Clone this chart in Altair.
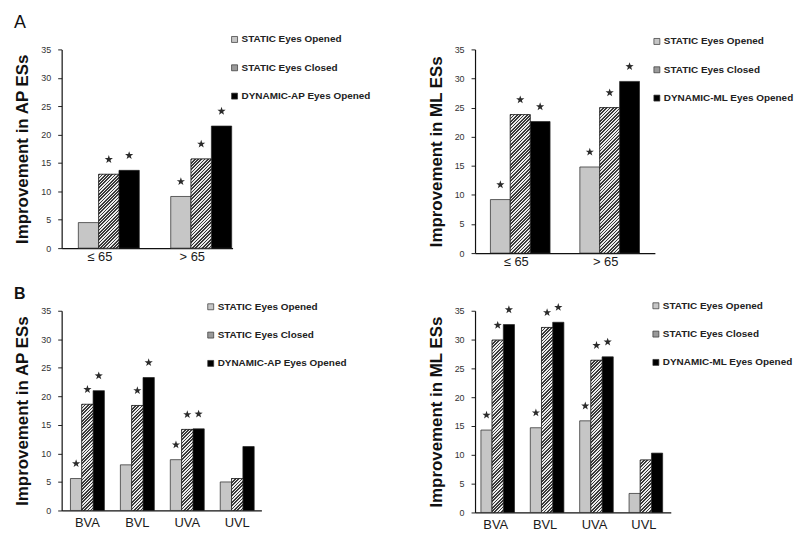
import altair as alt
import pandas as pd

FONT = "Liberation Sans"

# ---------------- data ----------------
groups_age = ["≤ 65", "> 65"]
groups_vest = ["BVA", "BVL", "UVA", "UVL"]
series_ap = ["STATIC Eyes Opened", "STATIC Eyes Closed", "DYNAMIC-AP Eyes Opened"]
series_ml = ["STATIC Eyes Opened", "STATIC Eyes Closed", "DYNAMIC-ML Eyes Opened"]

# Panel A (age groups) - AP
ap_age_opened = [4.5, 9.1]
ap_age_closed = [13.0, 15.7]
ap_age_dynamic = [13.7, 21.5]
ap_age_sig_opened = [0, 1]
ap_age_sig_closed = [1, 1]
ap_age_sig_dynamic = [1, 1]

# Panel A (age groups) - ML
ml_age_opened = [9.2, 14.8]
ml_age_closed = [23.8, 25.0]
ml_age_dynamic = [22.6, 29.5]
ml_age_sig_opened = [1, 1]
ml_age_sig_closed = [1, 1]
ml_age_sig_dynamic = [1, 1]

# Panel B (vestibular groups) - AP
ap_vest_opened = [5.6, 8.0, 8.9, 5.0]
ap_vest_closed = [18.6, 18.4, 14.2, 5.6]
ap_vest_dynamic = [21.0, 23.3, 14.3, 11.2]
ap_vest_sig_opened = [1, 0, 1, 0]
ap_vest_sig_closed = [1, 1, 1, 0]
ap_vest_sig_dynamic = [1, 1, 1, 0]

# Panel B (vestibular groups) - ML
ml_vest_opened = [14.3, 14.7, 15.9, 3.3]
ml_vest_closed = [29.9, 32.1, 26.4, 9.1]
ml_vest_dynamic = [32.6, 33.0, 27.0, 10.3]
ml_vest_sig_opened = [1, 1, 1, 0]
ml_vest_sig_closed = [1, 1, 1, 0]
ml_vest_sig_dynamic = [1, 1, 1, 0]

YMAX = 35
LIGHT = "#c6c6c6"
HATCH_LEGEND = "#9a9a9a"
DARK = "#000000"

# five-pointed star as a custom symbol path (unit box)
STAR = ("M0,-1L0.235,-0.324L0.951,-0.309L0.38,0.124L0.588,0.809L0,0.4"
        "L-0.588,0.809L-0.38,0.124L-0.951,-0.309L-0.235,-0.324Z")


def hatch_gradient(w, h, period=3.3, dark="#3a3a3a", light="#ececec"):
    """Diagonal '/' stripes drawn as a hard-stop linear gradient."""
    s = w * w + h * h
    u = w * (w + h) / s
    v = h * (w + h) / s
    n = max(1, int(round((w + h) / period)))
    stops = []
    for k in range(n):
        a = round(k / n, 5)
        b = round((k + 0.5) / n, 5)
        c = round((k + 1) / n, 5)
        stops += [
            {"offset": a, "color": dark},
            {"offset": b, "color": dark},
            {"offset": b, "color": light},
            {"offset": c, "color": light},
        ]
    return {"gradient": "linear", "x1": 0, "y1": 0, "x2": round(u, 5), "y2": round(v, 5),
            "stops": stops}


def panel(groups, series, cols, sigs, width, height, ytitle, pin, pout, align,
          legend_x, legend_y, xlab_pad, xlab_off, title=None):
    rows = []
    for gi, g in enumerate(groups):
        for si, s in enumerate(series):
            rows.append({"grp": g, "ser": s, "val": cols[si][gi],
                         "sig": sigs[si][gi], "key": f"{gi}-{si}"})
    df = pd.DataFrame(rows)

    x = alt.X("grp:N", sort=groups,
              scale=alt.Scale(paddingInner=pin, paddingOuter=pout, align=align),
              axis=alt.Axis(title=None, labelAngle=0, labelFontSize=13, labelFont=FONT,
                            labelColor="#1a1a1a", labelPadding=xlab_pad,
                            labelOffset=xlab_off, ticks=False,
                            tickSize=0, domainColor="#111", domainWidth=1.2))
    xo = alt.XOffset("ser:N", sort=series,
                     scale=alt.Scale(domain=series, paddingInner=0, paddingOuter=0))
    y = alt.Y("val:Q", scale=alt.Scale(domain=[0, YMAX]),
              axis=alt.Axis(values=list(range(0, YMAX + 1, 5)), title=ytitle, grid=False,
                            titleFont=FONT, titleFontSize=17, titleFontWeight="bold",
                            titleColor="#111", titlePadding=9,
                            labelFont=FONT, labelFontSize=9, labelColor="#333",
                            labelPadding=7, tickSize=4, tickColor="#222",
                            domainColor="#111", domainWidth=1.2))

    base = alt.Chart(df).encode(x=x, xOffset=xo, y=y)

    bars = base.mark_bar(stroke="#222", strokeWidth=0.7).encode(
        fill=alt.Fill("ser:N", sort=series,
                      scale=alt.Scale(domain=series, range=[LIGHT, HATCH_LEGEND, DARK]),
                      legend=alt.Legend(orient="none", legendX=legend_x, legendY=legend_y,
                                        padding=0, title=None, symbolType="square",
                                        symbolSize=36, symbolStrokeColor="#333",
                                        symbolStrokeWidth=0.7,
                                        labelFont=FONT, labelFontSize=10,
                                        labelFontWeight="bold", labelColor="#222",
                                        rowPadding=18.5, labelOffset=2))
    )

    n = len(groups)
    step = width / (n - pin + 2 * pout)
    bw = step * (1 - pin) / 3
    layers = [bars]
    for gi in range(n):
        h = cols[1][gi] / YMAX * height
        layers.append(
            base.transform_filter(alt.datum.key == f"{gi}-1")
            .mark_bar(fill=hatch_gradient(bw, h), stroke="#222", strokeWidth=0.7)
        )

    stars = base.transform_filter(alt.datum.sig == 1).mark_point(
        shape=STAR, filled=True, size=75, color="#2b2b2b", opacity=1, yOffset=-15
    )
    layers.append(stars)

    props = dict(width=width, height=height)
    if title is not None:
        props["title"] = title
    return alt.layer(*layers).properties(**props)


pA1 = panel(groups_age, series_ap,
            [ap_age_opened, ap_age_closed, ap_age_dynamic],
            [ap_age_sig_opened, ap_age_sig_closed, ap_age_sig_dynamic],
            172, 200, "Improvement in AP ESs", 0.34, 0.095, 0.95, 169, -15, 2, -9,
            title=alt.TitleParams("A", anchor="start", frame="bounds", font=FONT,
                                  fontSize=18, fontWeight="normal", color="#111", offset=3))
pA2 = panel(groups_age, series_ml,
            [ml_age_opened, ml_age_closed, ml_age_dynamic],
            [ml_age_sig_opened, ml_age_sig_closed, ml_age_sig_dynamic],
            181, 205, "Improvement in ML ESs", 0.333, 0.172, 0.5, 178, -13, 2, -4)
pB1 = panel(groups_vest, series_ap,
            [ap_vest_opened, ap_vest_closed, ap_vest_dynamic],
            [ap_vest_sig_opened, ap_vest_sig_closed, ap_vest_sig_dynamic],
            201, 201, "Improvement in AP ESs", 0.32, 0.16, 0.55, 145, -9, 6, 0,
            title=alt.TitleParams("B", anchor="start", frame="bounds", font=FONT,
                                  fontSize=16, fontWeight="bold", color="#111", offset=0))
pB2 = panel(groups_vest, series_ml,
            [ml_vest_opened, ml_vest_closed, ml_vest_dynamic],
            [ml_vest_sig_opened, ml_vest_sig_closed, ml_vest_sig_dynamic],
            197, 203, "Improvement in ML ESs", 0.32, 0.142, 0.42, 177, -10, 6, -2)

chart = (
    alt.concat(pA1, pA2, pB1, pB2, columns=2, spacing={"row": 18, "column": 55})
    .resolve_scale(x="independent", y="independent", xOffset="independent",
                   fill="independent")
    .resolve_legend(fill="independent")
    .properties(padding={"left": 5, "top": 4, "right": 0, "bottom": 0})
    .configure_view(stroke=None)
)

chart.save("out.html", embed_options={"renderer": "svg", "actions": False})
